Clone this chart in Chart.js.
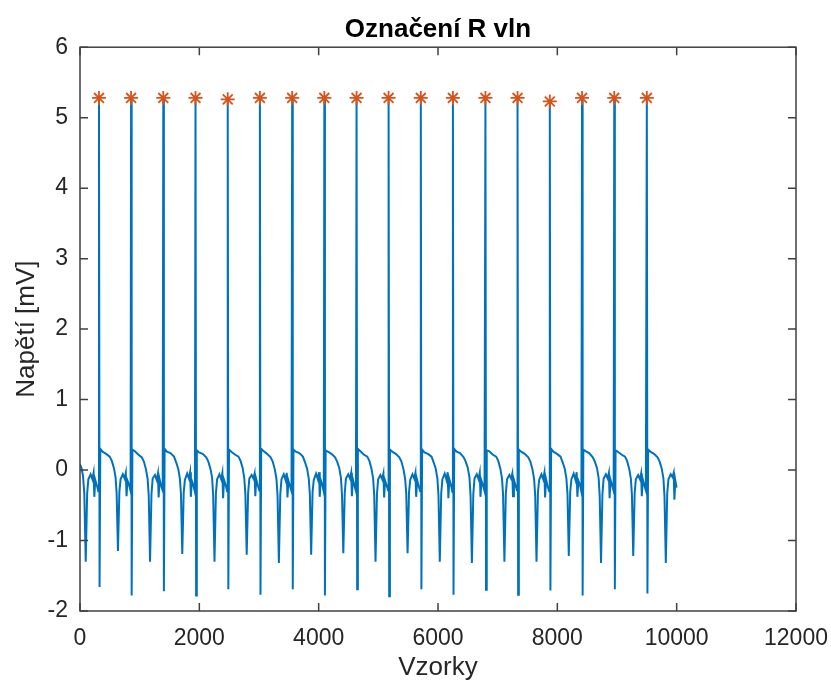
<!DOCTYPE html>
<html>
<head>
<meta charset="utf-8">
<title>Označení R vln</title>
<script src="https://cdn.jsdelivr.net/npm/chart.js@4"></script>
<style>
  html, body { margin: 0; padding: 0; background: #ffffff; }
  #wrap { width: 831px; height: 681px; }
</style>
</head>
<body>
<div id="wrap"><canvas id="chart" width="831" height="681"></canvas></div>
<script>
// Axis ticks
const xTicks = [0, 2000, 4000, 6000, 8000, 10000, 12000];
const yTicks = [-2, -1, 0, 1, 2, 3, 4, 5, 6];

// ECG trace (sample index, voltage in mV)
const ecgSamples = [
  0, 25, 50, 72, 96, 120, 140, 178, 208, 228, 240, 256, 283, 308,
  318, 328, 340, 378, 438, 498, 533, 568, 596, 614, 636, 660, 680, 718, 748, 768, 780, 796, 823, 848,
  856, 866, 878, 916, 976, 1036, 1071, 1106, 1134, 1152, 1174, 1198, 1218, 1256, 1286, 1306, 1318, 1334, 1361, 1386,
  1396, 1406, 1418, 1456, 1516, 1576, 1611, 1646, 1674, 1692, 1714, 1738, 1758, 1796, 1826, 1846, 1858, 1874, 1901, 1926,
  1936, 1946, 1958, 1996, 2056, 2116, 2151, 2186, 2214, 2232, 2254, 2278, 2298, 2336, 2366, 2386, 2398, 2414, 2441, 2466,
  2476, 2486, 2498, 2536, 2596, 2656, 2691, 2726, 2754, 2772, 2794, 2818, 2838, 2876, 2906, 2926, 2938, 2954, 2981, 3006,
  3015, 3025, 3037, 3075, 3135, 3195, 3230, 3265, 3293, 3311, 3333, 3357, 3377, 3415, 3445, 3465, 3477, 3493, 3520, 3545,
  3556, 3566, 3578, 3616, 3676, 3736, 3771, 3806, 3834, 3852, 3874, 3898, 3918, 3956, 3986, 4006, 4018, 4034, 4061, 4086,
  4095, 4105, 4117, 4155, 4215, 4275, 4310, 4345, 4373, 4391, 4413, 4437, 4457, 4495, 4525, 4545, 4557, 4573, 4600, 4625,
  4635, 4645, 4657, 4695, 4755, 4815, 4850, 4885, 4913, 4931, 4953, 4977, 4997, 5035, 5065, 5085, 5097, 5113, 5140, 5165,
  5172, 5182, 5194, 5232, 5292, 5352, 5387, 5422, 5450, 5468, 5490, 5514, 5534, 5572, 5602, 5622, 5634, 5650, 5677, 5702,
  5712, 5722, 5734, 5772, 5832, 5892, 5927, 5962, 5990, 6008, 6030, 6054, 6074, 6112, 6142, 6162, 6174, 6190, 6217, 6242,
  6250, 6260, 6272, 6310, 6370, 6430, 6465, 6500, 6528, 6546, 6568, 6592, 6612, 6650, 6680, 6700, 6712, 6728, 6755, 6780,
  6795, 6805, 6817, 6855, 6915, 6975, 7010, 7045, 7073, 7091, 7113, 7137, 7157, 7195, 7225, 7245, 7257, 7273, 7300, 7325,
  7333, 7343, 7355, 7393, 7453, 7513, 7548, 7583, 7611, 7629, 7651, 7675, 7695, 7733, 7763, 7783, 7795, 7811, 7838, 7863,
  7874, 7884, 7896, 7934, 7994, 8054, 8089, 8124, 8152, 8170, 8192, 8216, 8236, 8274, 8304, 8324, 8336, 8352, 8379, 8404,
  8414, 8424, 8436, 8474, 8534, 8594, 8629, 8664, 8692, 8710, 8732, 8756, 8776, 8814, 8844, 8864, 8876, 8892, 8919, 8944,
  8954, 8964, 8976, 9014, 9074, 9134, 9169, 9204, 9232, 9250, 9272, 9296, 9316, 9354, 9384, 9404, 9416, 9432, 9459, 9484,
  9500, 9510, 9522, 9560, 9620, 9680, 9715, 9750, 9778, 9796, 9818, 9842, 9862, 9900, 9930, 9950, 9962, 9978, 9999
];
const ecgValues = [
  0.08, 0.03, -0.08, -0.33, -1.30, -0.33, -0.13, -0.06, -0.13, -0.04, -0.38, -0.14, -0.22, -0.30,
  5.28, -1.66, 0.30, 0.26, 0.23, 0.19, 0.13, 0.03, -0.10, -0.33, -1.15, -0.31, -0.13, -0.06, -0.12, -0.04, -0.37, -0.15, -0.21, -0.30,
  5.28, -1.78, 0.29, 0.27, 0.22, 0.18, 0.12, 0.01, -0.13, -0.36, -1.30, -0.34, -0.12, -0.07, -0.14, -0.05, -0.39, -0.13, -0.23, -0.29,
  5.28, -1.72, 0.30, 0.26, 0.24, 0.19, 0.11, 0.02, -0.12, -0.34, -1.19, -0.32, -0.14, -0.05, -0.12, -0.03, -0.38, -0.15, -0.22, -0.31,
  5.28, -1.78, 0.28, 0.25, 0.23, 0.18, 0.12, 0.02, -0.11, -0.36, -1.30, -0.33, -0.13, -0.06, -0.13, -0.04, -0.40, -0.14, -0.21, -0.30,
  5.26, -1.69, 0.29, 0.26, 0.22, 0.19, 0.13, 0.03, -0.12, -0.35, -1.20, -0.32, -0.12, -0.07, -0.12, -0.05, -0.37, -0.13, -0.22, -0.29,
  5.28, -1.77, 0.30, 0.27, 0.23, 0.18, 0.12, 0.01, -0.13, -0.37, -1.32, -0.34, -0.13, -0.06, -0.14, -0.04, -0.39, -0.15, -0.23, -0.30,
  5.28, -1.69, 0.29, 0.26, 0.24, 0.19, 0.11, 0.02, -0.12, -0.34, -1.20, -0.31, -0.14, -0.05, -0.13, -0.03, -0.38, -0.14, -0.21, -0.31,
  5.28, -1.78, 0.28, 0.26, 0.23, 0.18, 0.12, 0.03, -0.11, -0.35, -1.18, -0.33, -0.12, -0.06, -0.12, -0.04, -0.37, -0.13, -0.22, -0.30,
  5.28, -1.69, 0.30, 0.27, 0.22, 0.19, 0.13, 0.02, -0.12, -0.36, -1.30, -0.34, -0.13, -0.07, -0.13, -0.05, -0.39, -0.15, -0.22, -0.29,
  5.28, -1.79, 0.29, 0.26, 0.23, 0.18, 0.12, 0.01, -0.13, -0.34, -1.18, -0.32, -0.14, -0.06, -0.12, -0.04, -0.38, -0.14, -0.23, -0.30,
  5.28, -1.69, 0.29, 0.25, 0.23, 0.19, 0.11, 0.02, -0.12, -0.36, -1.30, -0.33, -0.13, -0.05, -0.14, -0.03, -0.40, -0.13, -0.21, -0.31,
  5.28, -1.77, 0.30, 0.26, 0.24, 0.18, 0.12, 0.03, -0.11, -0.37, -1.32, -0.34, -0.12, -0.06, -0.13, -0.04, -0.38, -0.15, -0.22, -0.30,
  5.28, -1.70, 0.28, 0.27, 0.22, 0.19, 0.13, 0.02, -0.12, -0.36, -1.30, -0.33, -0.13, -0.07, -0.12, -0.05, -0.37, -0.14, -0.22, -0.29,
  5.28, -1.77, 0.29, 0.26, 0.23, 0.18, 0.12, 0.01, -0.13, -0.36, -1.30, -0.32, -0.14, -0.06, -0.13, -0.04, -0.39, -0.13, -0.23, -0.30,
  5.23, -1.71, 0.30, 0.26, 0.23, 0.19, 0.11, 0.02, -0.12, -0.34, -1.22, -0.31, -0.13, -0.05, -0.14, -0.03, -0.38, -0.15, -0.21, -0.31,
  5.28, -1.78, 0.29, 0.27, 0.24, 0.18, 0.12, 0.03, -0.11, -0.37, -1.32, -0.34, -0.12, -0.06, -0.12, -0.04, -0.40, -0.14, -0.22, -0.30,
  5.28, -1.69, 0.28, 0.26, 0.22, 0.19, 0.13, 0.02, -0.12, -0.35, -1.22, -0.33, -0.13, -0.07, -0.13, -0.05, -0.37, -0.13, -0.22, -0.29,
  5.28, -1.75, 0.29, 0.26, 0.23, 0.18, 0.12, 0.02, -0.12, -0.37, -1.32, -0.33, -0.13, -0.06, -0.10, -0.04, -0.42, -0.15, -0.25
];

// Detected R peaks (marked with *)
const rPeakSamples = [318, 856, 1396, 1936, 2476, 3015, 3556, 4095, 4635, 5172, 5712, 6250, 6795, 7333, 7874, 8414, 8954, 9500];
const rPeakValues = [5.28, 5.28, 5.28, 5.28, 5.26, 5.28, 5.28, 5.28, 5.28, 5.28, 5.28, 5.28, 5.28, 5.28, 5.23, 5.28, 5.28, 5.28];

const FONT = "'Liberation Sans', Arial, Helvetica, sans-serif";
const AXIS_COLOR = '#404040';
const TEXT_COLOR = '#262626';

// MATLAB-like box with inward tick marks
const axesBox = {
  id: 'axesBox',
  afterDatasetsDraw(chart) {
    const { ctx, chartArea: a, scales } = chart;
    const len = 8;
    ctx.save();
    ctx.strokeStyle = AXIS_COLOR;
    ctx.lineWidth = 1.5;
    ctx.beginPath();
    xTicks.forEach(v => {
      const px = scales.x.getPixelForValue(v);
      ctx.moveTo(px, a.bottom); ctx.lineTo(px, a.bottom - len);
      ctx.moveTo(px, a.top); ctx.lineTo(px, a.top + len);
    });
    yTicks.forEach(v => {
      const py = scales.y.getPixelForValue(v);
      ctx.moveTo(a.left, py); ctx.lineTo(a.left + len, py);
      ctx.moveTo(a.right, py); ctx.lineTo(a.right - len, py);
    });
    ctx.stroke();
    ctx.strokeRect(a.left, a.top, a.right - a.left, a.bottom - a.top);
    ctx.restore();
  }
};

const ecgData = ecgSamples.map((x, i) => ({ x, y: ecgValues[i] }));
const peakData = rPeakSamples.map((x, i) => ({ x, y: rPeakValues[i] }));

const ctx = document.getElementById('chart').getContext('2d');
new Chart(ctx, {
  type: 'scatter',
  data: {
    datasets: [
      {
        label: 'EKG',
        data: ecgData,
        showLine: true,
        borderColor: '#0072BD',
        backgroundColor: '#0072BD',
        borderWidth: 2,
        pointRadius: 0,
        tension: 0,
        order: 2
      },
      {
        label: 'R vlny',
        data: peakData,
        showLine: false,
        pointStyle: 'star',
        pointRadius: 7,
        borderColor: '#D95319',
        backgroundColor: '#D95319',
        borderWidth: 1.8,
        order: 1
      }
    ]
  },
  options: {
    responsive: false,
    animation: false,
    layout: { padding: { left: 0, right: 35, top: 0, bottom: 0 } },
    plugins: {
      legend: { display: false },
      tooltip: { enabled: false },
      title: {
        display: true,
        text: 'Označení R vln',
        color: '#000000',
        fullSize: false,
        font: { family: FONT, size: 26, weight: 'bold' },
        padding: { top: 14, bottom: 2 }
      }
    },
    scales: {
      x: {
        type: 'linear',
        min: 0,
        max: 12000,
        afterFit(scale) {
          scale.height = 70;
          scale.paddingLeft = 0;
          scale.paddingRight = 0;
        },
        afterBuildTicks(scale) { scale.ticks = xTicks.map(v => ({ value: v })); },
        ticks: {
          color: TEXT_COLOR,
          font: { family: FONT, size: 23 },
          padding: 14,
          maxRotation: 0,
          autoSkip: false,
          callback: v => String(v)
        },
        grid: { display: false, drawTicks: false },
        border: { display: false },
        title: {
          display: true,
          text: 'Vzorky',
          color: TEXT_COLOR,
          font: { family: FONT, size: 26, lineHeight: 1.0 },
          padding: { top: 0, bottom: 0 }
        }
      },
      y: {
        type: 'linear',
        min: -2,
        max: 6,
        afterFit(scale) {
          scale.width = 80;
          scale.paddingTop = 0;
          scale.paddingBottom = 0;
        },
        afterBuildTicks(scale) { scale.ticks = yTicks.map(v => ({ value: v })); },
        ticks: {
          color: TEXT_COLOR,
          font: { family: FONT, size: 23 },
          padding: 12,
          autoSkip: false,
          callback: v => String(v)
        },
        grid: { display: false, drawTicks: false },
        border: { display: false },
        title: {
          display: true,
          text: 'Napětí [mV]',
          color: TEXT_COLOR,
          font: { family: FONT, size: 26 },
          padding: { top: 11, bottom: 11 }
        }
      }
    }
  },
  plugins: [axesBox]
});
</script>
</body>
</html>
